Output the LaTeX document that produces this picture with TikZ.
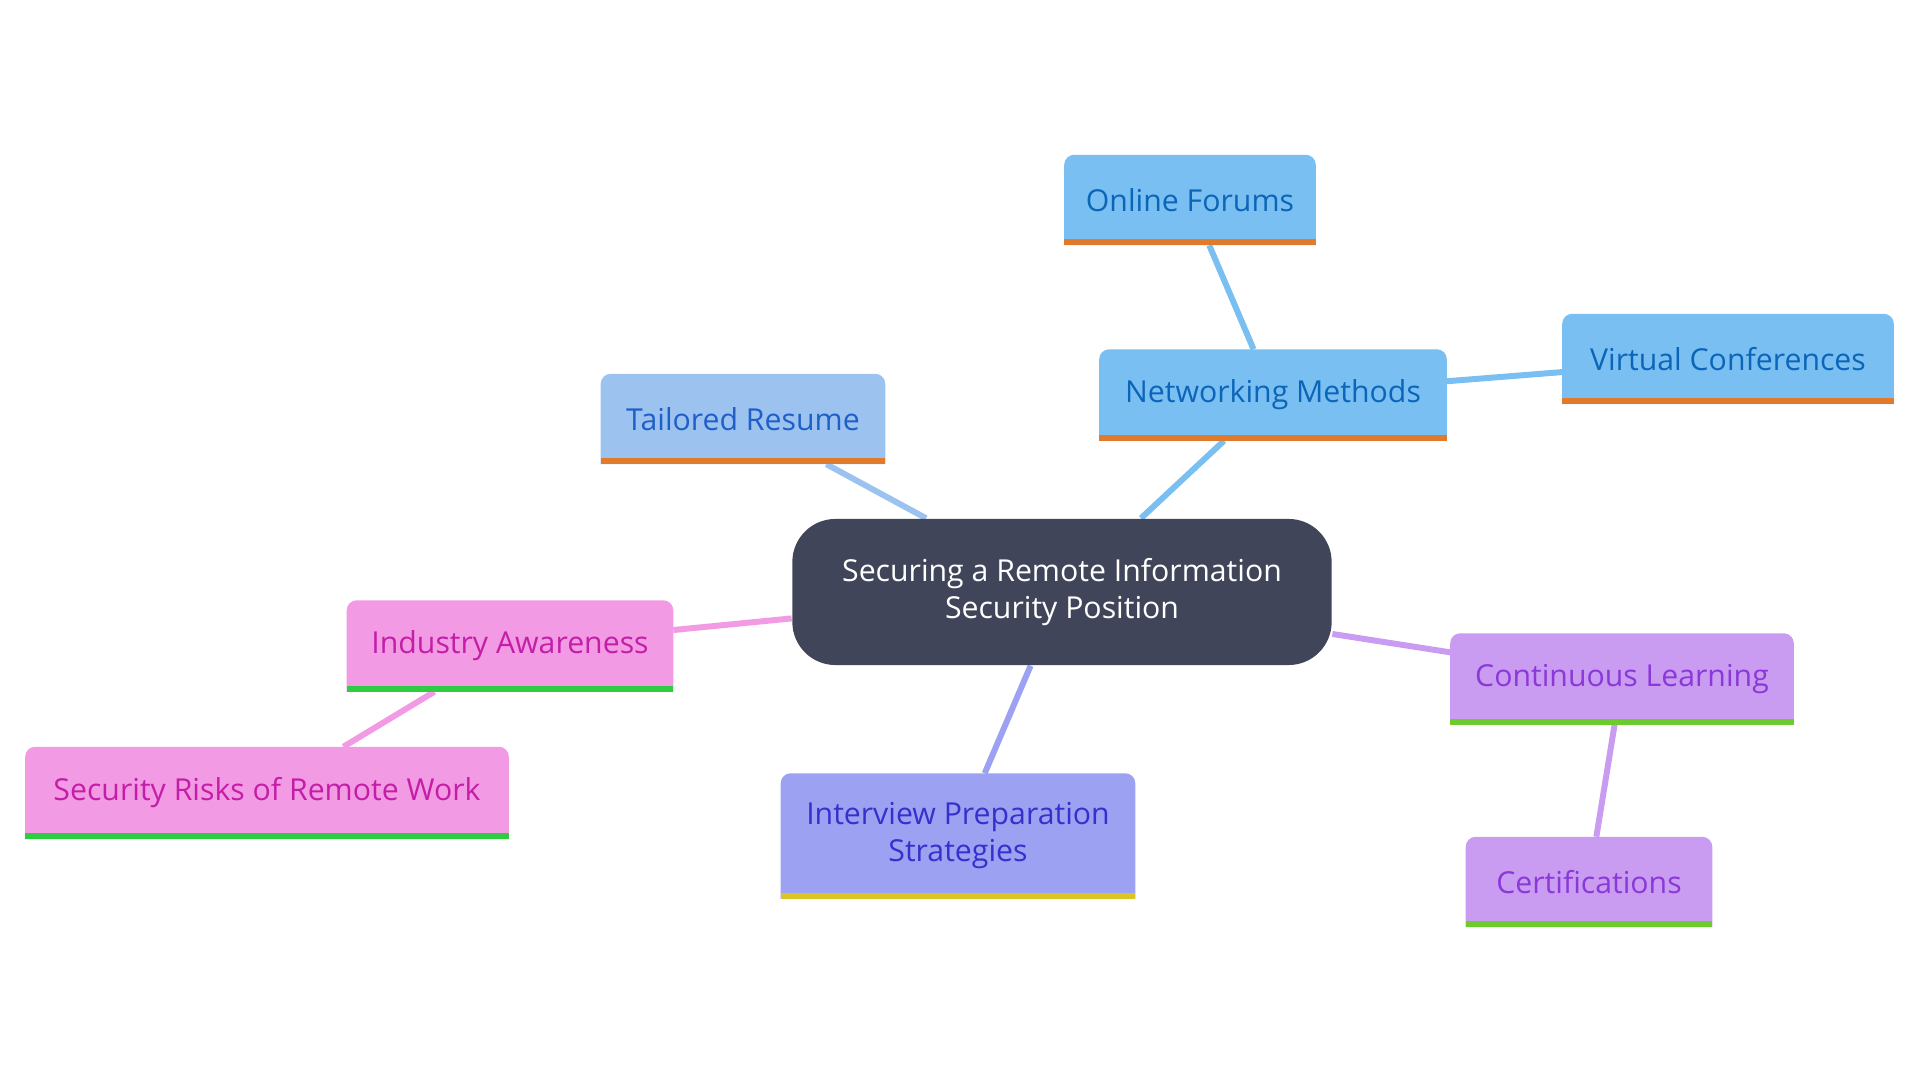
\documentclass[tikz,border=0pt]{standalone}
\usepackage{fontspec}
\setmainfont{Open Sans}
\usetikzlibrary{backgrounds}
\definecolor{cblue}{HTML}{7ABFF1}
\definecolor{tblue}{HTML}{0B65B8}
\definecolor{clblue}{HTML}{9CC3F0}
\definecolor{tlblue}{HTML}{1F5FC8}
\definecolor{cpink}{HTML}{F29AE3}
\definecolor{tpink}{HTML}{C41EA8}
\definecolor{cviol}{HTML}{9DA1F2}
\definecolor{tviol}{HTML}{3630CC}
\definecolor{cpurp}{HTML}{C99CF1}
\definecolor{tpurp}{HTML}{8A38D8}
\definecolor{orng}{HTML}{E07B2E}
\definecolor{grn}{HTML}{2ECC40}
\definecolor{lgrn}{HTML}{6DCB2E}
\definecolor{yel}{HTML}{D9C626}
\definecolor{dark}{HTML}{414559}
\begin{document}
\begin{tikzpicture}[x=0.01cm,y=-0.01cm,
  box/.style={minimum width=#1*0.1mm, inner sep=0pt, align=center, font=\fontsize{8.6}{10.5}\selectfont},
  link/.style={line width=1.7pt}]
\useasboundingbox (0,0) rectangle (1920,1080);
\node[box=250, minimum height=8.9mm, text=tblue] (of) at (1190,200) {Online Forums};
\node[box=346, minimum height=9mm, text=tblue] (nm) at (1273,395) {Networking Methods};
\node[box=330, minimum height=8.9mm, text=tblue] (vc) at (1728,359) {Virtual Conferences};
\node[box=283, minimum height=8.9mm, text=tlblue] (tr) at (743,419) {Tailored Resume};
\node[box=325, minimum height=9mm, text=tpink] (ia) at (510,646) {Industry Awareness};
\node[box=482, minimum height=9.1mm, text=tpink] (sr) at (267,793) {Security Risks of Remote Work};
\node[box=353, minimum height=12.4mm, text=tviol] (ip) at (958,836) {Interview Preparation\\Strategies};
\node[box=342, minimum height=9mm, text=tpurp] (cl) at (1622,679) {Continuous Learning};
\node[box=245, minimum height=8.9mm, text=tpurp] (ce) at (1589,882) {Certifications};
\node[box=539, minimum height=14.6mm, text=white, fill=dark, rounded corners=4.3mm] (c) at (1062,592) {Securing a Remote Information\\Security Position};
\begin{scope}[on background layer]
\draw[link, clblue] (c) -- (tr);
\draw[link, cblue] (c) -- (nm);
\draw[link, cblue] (nm) -- (of);
\draw[link, cblue] (nm) -- (vc);
\draw[link, cpink] (c) -- (ia);
\draw[link, cpink] (ia) -- (sr);
\draw[link, cviol] (c) -- (ip);
\draw[link, cpurp] (c) -- (cl);
\draw[link, cpurp] (cl) -- (ce);
\foreach \n/\f/\b in {of/cblue/orng, nm/cblue/orng, vc/cblue/orng, tr/clblue/orng, ia/cpink/grn, sr/cpink/grn, ip/cviol/yel, cl/cpurp/lgrn, ce/cpurp/lgrn}{
  \fill[\f] (\n.south west) [rounded corners=1mm] -- (\n.north west) -- (\n.north east) [sharp corners] -- (\n.south east) -- cycle;
  \fill[\b] (\n.south west) rectangle ([yshift=0.6mm]\n.south east);
}
\end{scope}
\end{tikzpicture}
\end{document}
